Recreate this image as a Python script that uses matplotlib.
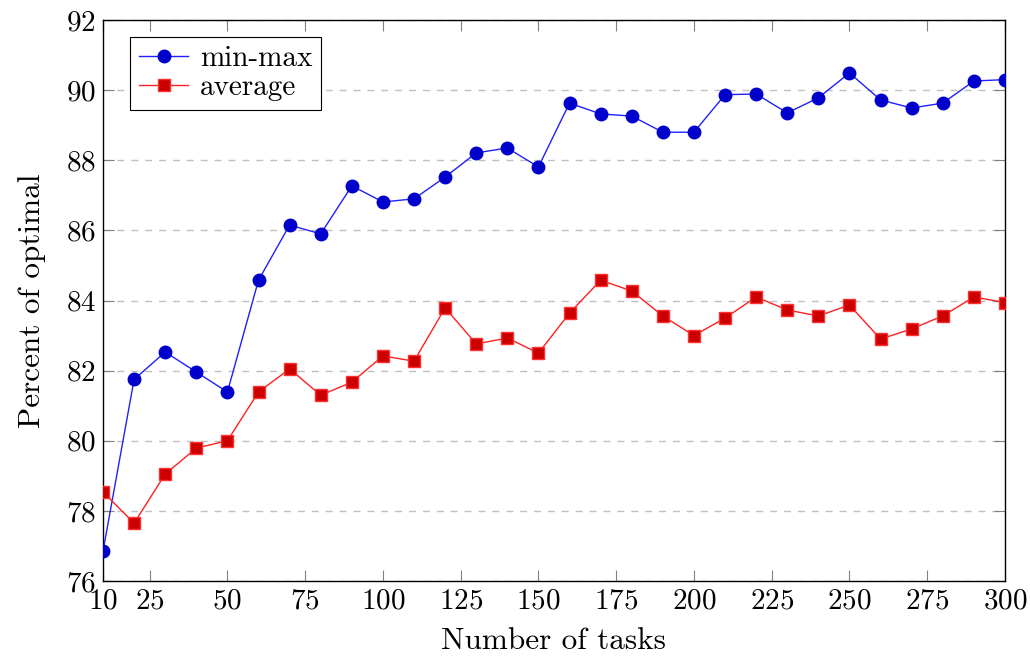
import matplotlib.pyplot as plt

plt.rcParams['font.family'] = 'cmr10'
plt.rcParams['axes.formatter.use_mathtext'] = True

tasks = [10, 20, 30, 40, 50, 60, 70, 80, 90, 100, 110, 120, 130, 140, 150,
         160, 170, 180, 190, 200, 210, 220, 230, 240, 250, 260, 270, 280, 290, 300]
minmax = [76.85, 81.75, 82.53, 81.96, 81.39, 84.58, 86.15, 85.9, 87.27, 86.81,
          86.9, 87.52, 88.21, 88.35, 87.81, 89.63, 89.32, 89.26, 88.8, 88.8,
          89.87, 89.89, 89.35, 89.78, 90.49, 89.72, 89.49, 89.63, 90.26, 90.3]
average = [78.54, 77.65, 79.05, 79.79, 80.0, 81.39, 82.05, 81.3, 81.67, 82.42,
           82.27, 83.79, 82.76, 82.93, 82.5, 83.64, 84.58, 84.27, 83.56, 83.0,
           83.5, 84.1, 83.73, 83.56, 83.87, 82.9, 83.19, 83.56, 84.1, 83.94]
xticks = [10, 25, 50, 75, 100, 125, 150, 175, 200, 225, 250, 275, 300]
yticks = [76, 78, 80, 82, 84, 86, 88, 90, 92]

fig = plt.figure(figsize=(10.3, 6.58), dpi=100)
ax = fig.add_axes([0.1, 0.117, 0.8757, 0.8526])

ax.plot(tasks, minmax, color='#2020ff', lw=1, marker='o', ms=9,
        mfc='#0000cc', mec='#0000cc', label='min-max', zorder=3)
ax.plot(tasks, average, color='#ff2020', lw=1, marker='s', ms=8,
        mfc='#cc0000', mec='#ff3030', label='average', zorder=3)

ax.set_xlim(10, 300)
ax.set_ylim(76, 92)
ax.set_xticks(xticks)
ax.set_yticks(yticks)
ax.yaxis.grid(True, ls=(0, (5, 5)), color='#c0c0c0', lw=1)
ax.tick_params(direction='in', length=8, width=0.8, color='#808080',
               top=True, right=True, labelsize=21, pad=5)
for s in ax.spines.values():
    s.set_linewidth(1)
ax.set_xlabel('Number of tasks', fontsize=22.5, labelpad=9)
ax.set_ylabel('Percent of optimal', fontsize=22.5, labelpad=14)

leg = ax.legend(loc='upper left', bbox_to_anchor=(0.03, 0.97), fontsize=21,
                fancybox=False, edgecolor='black', framealpha=1,
                handlelength=1.7, borderpad=0.3, labelspacing=0.08,
                handletextpad=0.4, borderaxespad=0)
leg.get_frame().set_linewidth(0.8)

fig.savefig('out.png', dpi=100)
